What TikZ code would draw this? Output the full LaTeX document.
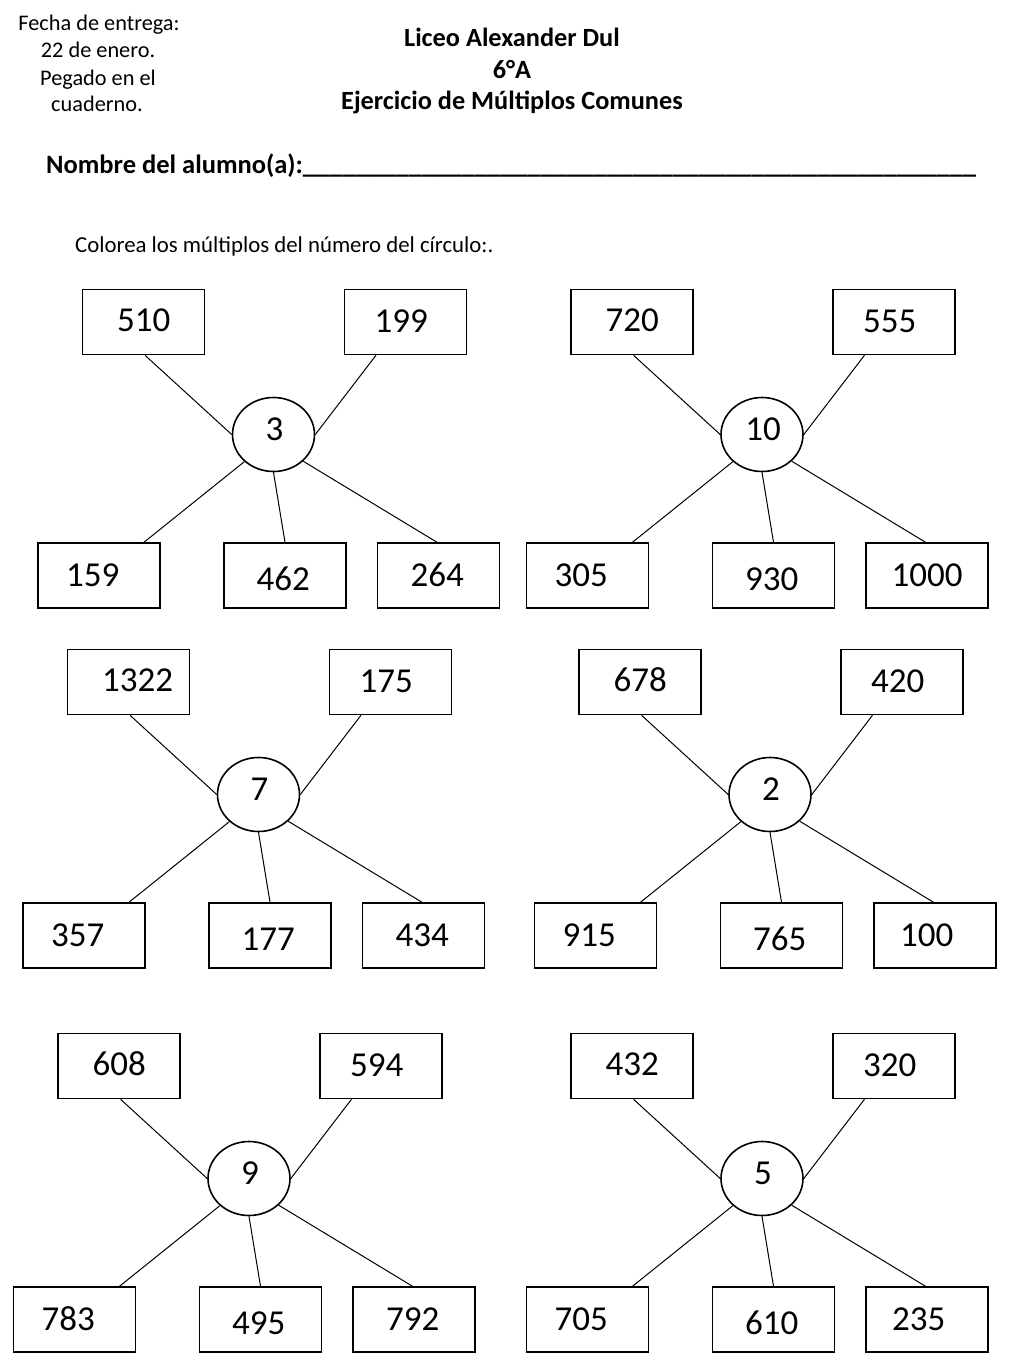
\documentclass[tikz,border=0pt]{standalone}
\usepackage{fontspec}
\setmainfont{Carlito}
\usetikzlibrary{calc,shapes.geometric}
\newcommand\grp[9]{%
\begin{scope}[shift={#2}]
 \node[circ] (#1c) at (273.5,434.5) {};
 \node[num, anchor=base] (#1ct) at (274.5,440) {#3};
 \node[box] (#1tl) at (143.5,322) {};
 \node[num, anchor=base west] (#1tlt) at (117,331.7) {#4};
 \node[box] (#1tr) at (405.5,322) {};
 \node[num, anchor=base west] (#1trt) at (374.5,332.7) {#5};
 \node[box] (#1bl) at (99,575.5) {};
 \node[num, anchor=base west] (#1blt) at (66,586.7) {#6};
 \node[box] (#1bm) at (285,575.5) {};
 \node[num, anchor=base west] (#1bmt) at (256.5,590.7) {#7};
 \node[box] (#1br) at (438.5,575.5) {};
 \node[num, anchor=base west] (#1brt) at (#9,586.7) {#8};
 \draw[conn] ($(#1tl.south)+(1.5,0)$) -- (#1c.180);
 \draw[conn] ($(#1tr.south)+(-29.5,0)$) -- (#1c.0);
 \draw[conn] ($(#1bl.north)+(45,0)$) -- (#1c.-137);
 \draw[conn] (#1bm.north) -- (#1c.-90);
 \draw[conn] ($(#1br.north)+(-1.5,0)$) -- (#1c.-42);
\end{scope}}
\begin{document}
\begin{tikzpicture}[x=1pt,y=-1pt,
 box/.style={draw, line width=1.5pt, minimum width=122pt, minimum height=65pt, inner sep=0pt},
 circ/.style={draw, ellipse, line width=1.6pt, minimum width=82pt, minimum height=74pt, inner sep=0pt},
 num/.style={font=\fontsize{35}{40}\selectfont, inner sep=0pt},
 conn/.style={line width=1pt},
 small/.style={font=\fontsize{22.3}{27}\selectfont, inner sep=0pt, anchor=base},
 title/.style={font=\bfseries\fontsize{26.3}{31}\selectfont, inner sep=0pt, anchor=base}]
\useasboundingbox[fill=white] (0,0) rectangle (1024,1365);
% header
\node[small] (f1) at (99,30.7) {Fecha de entrega:};
\node[small] (f2) at (98,57.3) {22 de enero.};
\node[small] (f3) at (98,85) {Pegado en el};
\node[small] (f4) at (97,111.7) {cuaderno.};
\node[title] (t1) at (512,46.7) {Liceo Alexander Dul};
\node[title] (t2) at (512,78.3) {6°A};
\node[title] (t3) at (512,109.3) {Ejercicio de Múltiplos Comunes};
\node[font=\bfseries\fontsize{26.5}{30}\selectfont, inner sep=0pt, anchor=base west] (nom) at (46,173.3)
 {Nombre del alumno(a):\_\_\_\_\_\_\_\_\_\_\_\_\_\_\_\_\_\_\_\_\_\_\_\_\_\_\_\_\_\_\_\_\_\_\_\_\_\_\_\_\_\_\_\_\_\_\_\_\_\_\_};
\node[font=\fontsize{22.8}{27}\selectfont, inner sep=0pt, anchor=base west] (col) at (75,252.3)
 {Colorea los múltiplos del número del círculo:.};
% groups
\grp{ga}{(0,0)}{3}{510}{199}{159}{462}{264}{410.5}
\grp{gb}{(488.5,0)}{10}{720}{555}{305}{930}{1000}{403}
\grp{gc}{(-15,360)}{7}{1322}{175}{357}{177}{434}{410.5}
\grp{gd}{(496.5,360)}{2}{678}{420}{915}{765}{100}{403.5}
\grp{ge}{(-24.5,744)}{9}{608}{594}{783}{495}{792}{410.5}
\grp{gf}{(488.5,744)}{5}{432}{320}{705}{610}{235}{403.5}
\end{tikzpicture}
\end{document}
